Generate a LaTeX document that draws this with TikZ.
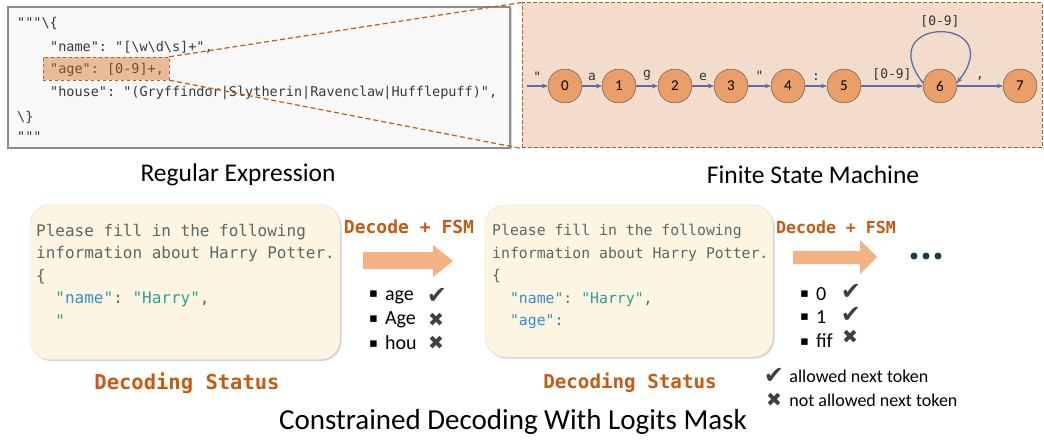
\documentclass[tikz,border=0pt]{standalone}
\usepackage{fontspec}
\setmainfont{Carlito}
\setmonofont{DejaVu Sans Mono}
\newfontfamily\symfont{DejaVu Sans}
\usetikzlibrary{shadows,arrows.meta,positioning}

\definecolor{codebg}{HTML}{F8F8F8}
\definecolor{framegray}{HTML}{8C8C8C}
\definecolor{codegray}{HTML}{3A3A3A}
\definecolor{darkorange}{HTML}{C55A11}
\definecolor{hlorange}{HTML}{E9BB9B}
\definecolor{hltext}{HTML}{7A4A2E}
\definecolor{fsmbg}{HTML}{F3DCCB}
\definecolor{stateorange}{HTML}{EA9F6B}
\definecolor{fsmblue}{HTML}{5A6DA8}
\definecolor{statusbg}{HTML}{FDF5E2}
\definecolor{stgray}{HTML}{596868}
\definecolor{jblue}{HTML}{2F8ED6}
\definecolor{jteal}{HTML}{2AA198}
\definecolor{arrowfill}{HTML}{F4B183}
\definecolor{markgray}{HTML}{404040}
\definecolor{dotnavy}{HTML}{1F3A4A}

\newcommand{\sqbullet}{\raisebox{2.5pt}{\symfont\fontsize{13}{14}\selectfont▪}\hspace{7pt}}

\begin{document}
\begin{tikzpicture}[x=1pt,y=-1pt,
	code/.style={anchor=west,inner sep=0pt,font=\fontsize{13.5}{16}\ttfamily,text=codegray},
	state/.style={circle,draw=gray!60!black,fill=stateorange,minimum size=34pt,inner sep=0pt,font=\fontsize{15}{18}\selectfont},
	trans/.style={draw=fsmblue,line width=1.3pt,-{Stealth[length=6pt,width=5pt]}},
	lbl/.style={font=\fontsize{13}{15}\ttfamily,text=black!80,inner sep=2pt},
	zoomline/.style={draw=darkorange,line width=1.2pt,dash pattern=on 5pt off 3pt},
	status/.style={rounded corners=20pt,draw=black!12,fill=statusbg,drop shadow={opacity=.35,shadow xshift=1.5pt,shadow yshift=-1.5pt}},
	stxt/.style={anchor=north west,align=left,inner sep=0pt,text=stgray},
	otitle/.style={font=\ttfamily\bfseries,text=darkorange},
	caption/.style={font=\fontsize{25.5}{30}\selectfont},
	item/.style={anchor=west,inner sep=0pt,font=\fontsize{20}{24}\selectfont},
	okmark/.style={inner sep=0pt,text=markgray,font=\fontsize{24}{26}\symfont},
	nomark/.style={inner sep=0pt,text=markgray,font=\fontsize{19}{22}\symfont}]
\useasboundingbox (0,0) rectangle (1044,441);

% regular expression
\node[draw=framegray,line width=1.5pt,fill=codebg,drop shadow={opacity=.3,shadow xshift=1.5pt,shadow yshift=-1.5pt},
	minimum width=502pt,minimum height=141pt] (regex) at (259,77.5) {};
\node[draw=darkorange,dashed,fill=hlorange,minimum width=126pt,minimum height=23pt,inner sep=0pt] (hl) at (106,68.5) {};
\node[code] (l1) at (17,23) {"""\textbackslash\{};
\node[code] (l2) at (50,47) {"name": "[\textbackslash w\textbackslash d\textbackslash s]+",};
\node[code,text=hltext] (l3) at (50,70) {"age": [0-9]+,};
\node[code] (l4) at (50,93) {"house": "(Gryffindor|Slytherin|Ravenclaw|Hufflepuff)",};
\node[code] (l5) at (17,117) {\textbackslash\}};
\node[code] (l6) at (17,137) {"""};

% finite state machine
\node[draw=darkorange,line width=1pt,dash pattern=on 4pt off 2pt,fill=fsmbg,minimum width=520pt,minimum height=145pt] (fsm) at (782,75.5) {};
\draw[zoomline] (hl.north east) -- (fsm.north west);
\draw[zoomline] (hl.south east) -- (fsm.south west);

\foreach \i/\x in {0/565,1/619,2/675,3/731,4/788,5/844,6/940,7/1020}
	\node[state] (s\i) at (\x,86) {\i};
\coordinate (start) at (527,86);
\draw[trans] (start) -- node[lbl,above=2pt]{"} (s0);
\foreach \a/\b/\t in {0/1/a,1/2/g,2/3/e,3/4/",4/5/:,5/6/[0-9],6/7/{,}}
	\draw[trans] (s\a) -- node[lbl,above=3pt]{\t} (s\b);
\draw[trans] (s6.170) .. controls (870,15) and (1010,15) .. node[lbl,above=2pt]{[0-9]} (s6.10);

\node[caption] (capA) at (238,175) {Regular Expression};
\node[caption] (capB) at (813,175) {Finite State Machine};

% decoding steps
\node[status,minimum width=310pt,minimum height=155pt] (boxA) at (185,282) {};
\node[stxt,font=\fontsize{16}{22.5}\ttfamily] (txtA) at (36,224) {Please fill in the following\\
information about Harry Potter.\\
\{\\
\phantom{xx}\textcolor{jteal}{"}\textcolor{jblue}{name}\textcolor{jteal}{"}: \textcolor{jteal}{"Harry"},\\
\phantom{xx}\textcolor{jteal}{"}};
\node[otitle,font=\fontsize{20.5}{24}\ttfamily\bfseries] (decA) at (187,383) {Decoding Status};

\node[otitle,font=\fontsize{18}{22}\ttfamily\bfseries] (fsmA) at (409,227) {Decode + FSM};
\fill[arrowfill] (363,252) -- (433,252) -- (433,245) -- (453,261) -- (433,277) -- (433,269) -- (363,269) -- cycle;
\node[item] (ageA) at (369,297) {\sqbullet age};
\node[item] (ageB) at (369,320) {\sqbullet Age};
\node[item] (houA) at (369,343) {\sqbullet hou};
\node[okmark] (okA) at (437,296) {✔};
\node[nomark] (noA) at (436,320) {✖};
\node[nomark] (noB) at (436,343) {✖};

\node[status,minimum width=288pt,minimum height=152pt] (boxB) at (629,281) {};
\node[stxt,font=\fontsize{14.8}{22.5}\ttfamily] (txtB) at (492,224) {Please fill in the following\\
information about Harry Potter.\\
\{\\
\phantom{xx}\textcolor{jteal}{"}\textcolor{jblue}{name}\textcolor{jteal}{"}: \textcolor{jteal}{"Harry"},\\
\phantom{xx}\textcolor{jteal}{"}\textcolor{jblue}{age}\textcolor{jteal}{"}:};
\node[otitle,font=\fontsize{19.2}{23}\ttfamily\bfseries] (decB) at (630,383) {Decoding Status};

\node[otitle,font=\fontsize{16.6}{20}\ttfamily\bfseries] (fsmB) at (836,227) {Decode + FSM};
\fill[arrowfill] (793,251) -- (860,251) -- (860,240) -- (877,257) -- (860,274) -- (860,264) -- (793,264) -- cycle;
\foreach \x in {914,926,938}
	\fill[dotnavy] (\x,256) circle (3.5pt);
\node[item] (zeroA) at (800,294) {\sqbullet 0};
\node[item] (oneA) at (800,317) {\sqbullet 1};
\node[item] (fifA) at (800,341) {\sqbullet fif};
\node[okmark] (okB) at (851,292) {✔};
\node[okmark] (okC) at (851,315) {✔};
\node[nomark] (noC) at (850,337) {✖};

% legend
\node[okmark] (okL) at (774,376) {✔};
\node[item,font=\fontsize{18}{22}\selectfont,right=5pt of okL] (okT) {allowed next token};
\node[nomark] (noL) at (774,400) {✖};
\node[item,font=\fontsize{18}{22}\selectfont] (noT) at (okT.west |- noL) {not allowed next token};

\node[font=\fontsize{29}{34}\selectfont] (title) at (513,422) {Constrained Decoding With Logits Mask};
\end{tikzpicture}
\end{document}
